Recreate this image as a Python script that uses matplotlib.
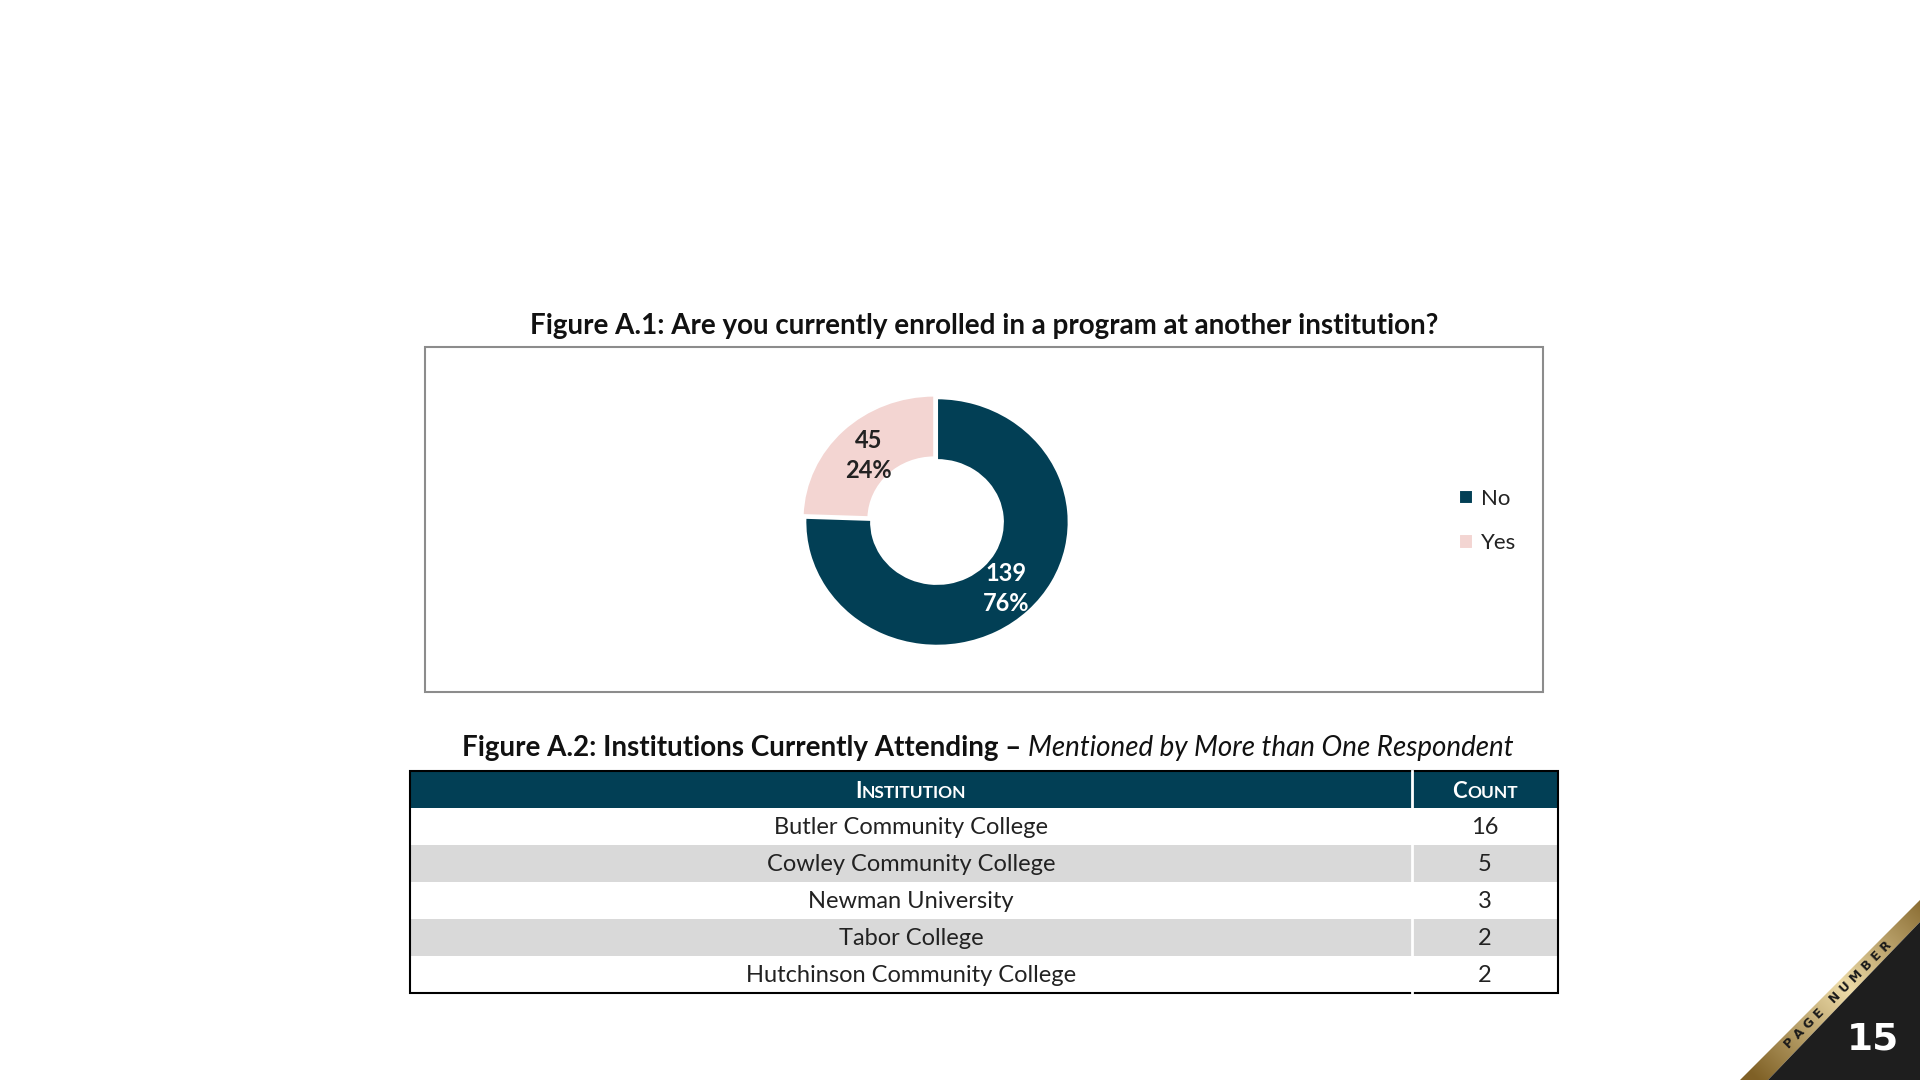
import numpy as np
import matplotlib.pyplot as plt
from matplotlib.patches import Rectangle, Polygon

plt.rcParams['font.family'] = ['Lato', 'DejaVu Sans']

# donut data
labels = ['No', 'Yes']
counts = [139, 45]
pcts = [76, 24]

# table data
institutions = ['Butler Community College', 'Cowley Community College',
                'Newman University', 'Tabor College', 'Hutchinson Community College']
inst_counts = [16, 5, 3, 2, 2]

navy = '#023f55'
pink = '#f3d5d2'
gray_row = '#d9d9d9'

fig = plt.figure(figsize=(19.2, 10.8), dpi=100)
bg = fig.add_axes([0, 0, 1, 1])
bg.set_xlim(0, 1920)
bg.set_ylim(1080, 0)
bg.axis('off')
rend = fig.canvas.get_renderer()

# figure A.1
bg.text(984, 326, 'Figure A.1: Are you currently enrolled in a program at another institution?',
        ha='center', va='center', fontsize=20, fontweight='bold', color='#111111')
bg.add_patch(Rectangle((425, 347), 1118, 345, fill=False, ec='#8c8c8c', lw=1.5))

# donut is a bit wider than tall in the reference
rx, ry = 133, 125
ax = fig.add_axes([(937 - rx) / 1920, (1080 - 522 - ry) / 1080, 2 * rx / 1920, 2 * ry / 1080])
wedges, _ = ax.pie(counts, colors=[navy, pink], startangle=90, counterclock=False, radius=1,
                   explode=[0, 0.03],
                   wedgeprops=dict(width=0.5, edgecolor='white', linewidth=1.5))
ax.set_aspect('auto')
ax.set_xlim(-1.01, 1.01)
ax.set_ylim(-1.01, 1.01)
for w, c, p, col in zip(wedges, counts, pcts, ['white', '#222222']):
    ang = np.deg2rad((w.theta1 + w.theta2) / 2)
    ax.text(0.75 * np.cos(ang), 0.75 * np.sin(ang), f'{c}\n{p}%', ha='center', va='center',
            fontsize=17, fontweight='bold', color=col, linespacing=1.35)

fig.legend(wedges, labels, loc='center left', bbox_to_anchor=(1439 / 1920, 1 - 521 / 1080),
           frameon=False, handlelength=0.65, handleheight=0.65, labelspacing=1.1,
           handletextpad=0.35, fontsize=16, labelcolor='#222222')

# figure A.2 title
t1 = bg.text(462, 748, 'Figure A.2: Institutions Currently Attending \u2013 ', ha='left', va='center',
             fontsize=20, fontweight='bold', color='#111111')
w1 = t1.get_window_extent(rend).width
bg.text(462 + w1, 748, 'Mentioned by More than One Respondent', ha='left', va='center',
        fontsize=20, style='italic', color='#111111')

# table
x0, x1, xdiv = 410, 1558, 1412
y0, rh = 771, 37
bg.add_patch(Rectangle((x0, y0), x1 - x0, rh, fc=navy, ec='none'))
for i, (name, n) in enumerate(zip(institutions, inst_counts)):
    y = y0 + rh * (i + 1)
    bg.add_patch(Rectangle((x0, y), x1 - x0, rh, fc='white' if i % 2 == 0 else gray_row, ec='none'))
    bg.text((x0 + xdiv) / 2, y + rh / 2 + 1, name, ha='center', va='center', fontsize=17, color='#222222')
    bg.text((xdiv + x1) / 2, y + rh / 2 + 1, str(n), ha='center', va='center', fontsize=17, color='#222222')
bg.plot([xdiv, xdiv], [y0, y0 + rh * 6], color='white', lw=2)
bg.add_patch(Rectangle((x0, y0), x1 - x0, rh * 6, fill=False, ec='black', lw=1.5))


def small_caps(xc, yb, word, size):
    a = bg.text(0, yb, word[0], fontsize=size, fontweight='bold', color='white', ha='left', va='baseline')
    b = bg.text(0, yb, word[1:].upper(), fontsize=size * 0.78, fontweight='bold', color='white',
                ha='left', va='baseline')
    wa = a.get_window_extent(rend).width
    wb = b.get_window_extent(rend).width
    a.set_x(xc - (wa + wb) / 2)
    b.set_x(xc - (wa + wb) / 2 + wa)


small_caps((x0 + xdiv) / 2, y0 + 27, 'Institution', 16)
small_caps((xdiv + x1) / 2, y0 + 27, 'Count', 16)

# page number corner
gold = Polygon([(1740, 1080), (1920, 900), (1920, 922), (1768, 1080)], closed=True, fc='none', ec='none')
bg.add_patch(gold)
xs = np.linspace(1730, 1920, 200)
ys = np.linspace(895, 1080, 200)
X, Y = np.meshgrid(xs, ys)
s = np.clip(((X - 1740) - (Y - 1080)) / 360, 0, 1)
wgt = 1 - np.abs(s - 0.55) * 2
dark = np.array([0.50, 0.38, 0.15])
light = np.array([0.93, 0.86, 0.66])
img = dark + (light - dark) * np.clip(wgt, 0, 1)[..., None]
im = bg.imshow(img, extent=(1730, 1920, 1080, 895), origin='upper', aspect='auto', zorder=2)
im.set_clip_path(gold)
bg.set_xlim(0, 1920)
bg.set_ylim(1080, 0)
bg.add_patch(Polygon([(1768, 1080), (1920, 922), (1920, 1080)], closed=True, fc='#1e1e1e', ec='none', zorder=3))
bg.text(1838, 995, 'P A G E   N U M B E R', rotation=45, ha='center', va='center',
        fontsize=9, fontweight='bold', color='#1a1a1a', zorder=4, family='DejaVu Sans')
bg.text(1873, 1039, '15', ha='center', va='center', fontsize=27, fontweight='bold',
        color='white', zorder=4, family='DejaVu Sans')

fig.savefig('out.png', dpi=100, facecolor='white')
